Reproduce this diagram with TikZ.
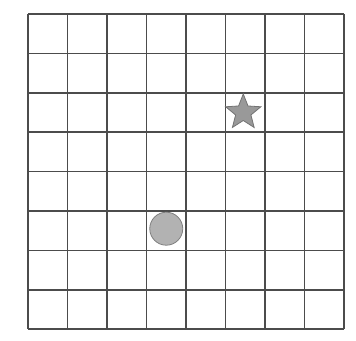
\documentclass[tikz,border=0pt]{standalone}
\usetikzlibrary{shapes.geometric,positioning}
\tikzset{gridline/.style={draw=black!70, line width=1.5pt},
  goalmark/.style={star, star points=5, star point ratio=2.3, minimum size=37pt, inner sep=0pt, draw=black!55, fill=black!40, line width=0.8pt},
  agentmark/.style={circle, minimum size=33pt, inner sep=0pt, draw=black!50, fill=black!30, line width=0.8pt}}

\begin{document}
\begin{tikzpicture}[x=39.5pt, y=-39.4pt]
\useasboundingbox (-0.709,-0.355) rectangle (8.304,8.299);
% board
\foreach \i in {0,...,8} {
  \draw[gridline] (\i,0) -- (\i,8);
  \draw[gridline] (0,\i) -- (8,\i);
}
% goal and agent
\node[goalmark] (goal) at (5.45,2.5) {};
\node[agentmark] (agent) at (3.5,5.45) {};
\end{tikzpicture}
\end{document}
